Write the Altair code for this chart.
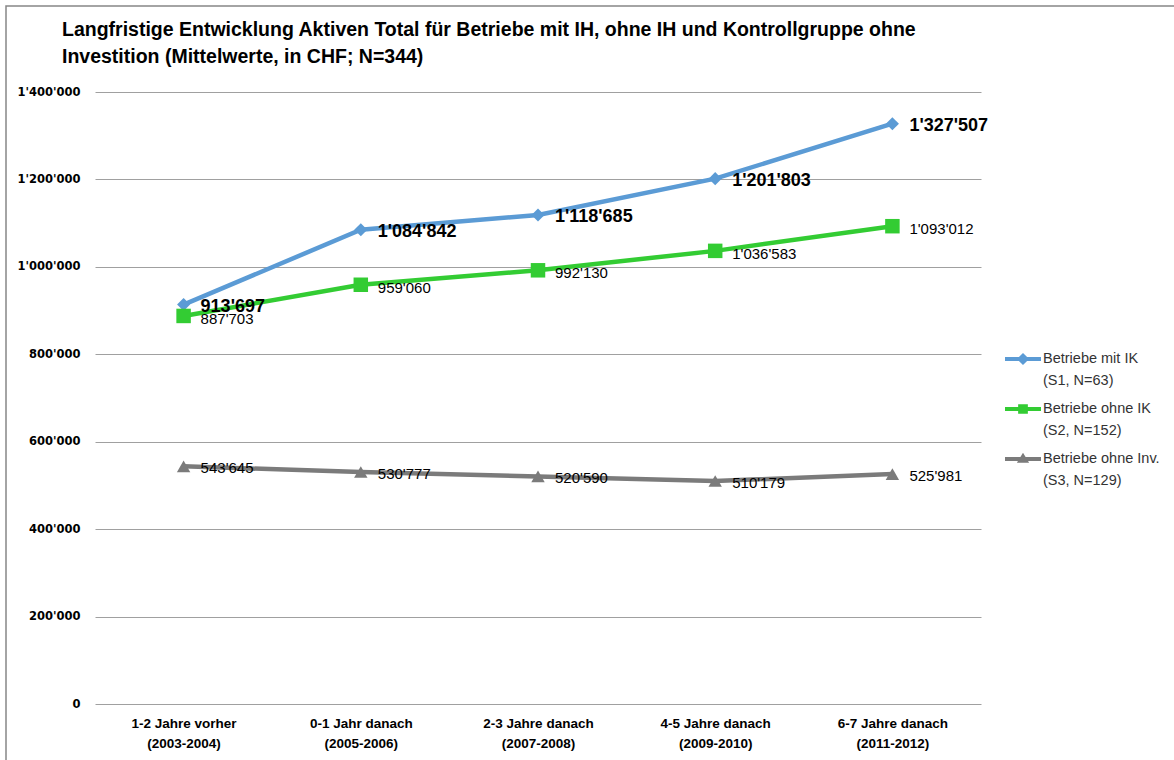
import altair as alt
import pandas as pd

# Categories (x axis): period and year range, shown on two lines
periods = ["1-2 Jahre vorher", "0-1 Jahr danach", "2-3 Jahre danach", "4-5 Jahre danach", "6-7 Jahre danach"]
years = ["(2003-2004)", "(2005-2006)", "(2007-2008)", "(2009-2010)", "(2011-2012)"]

# Series names (legend, two lines each)
series_names = [
    "Betriebe mit IK|(S1, N=63)",
    "Betriebe ohne IK|(S2, N=152)",
    "Betriebe ohne Inv.|(S3, N=129)",
]

# Mean total assets in CHF
mit_ik = [913697, 1084842, 1118685, 1201803, 1327507]
ohne_ik = [887703, 959060, 992130, 1036583, 1093012]
ohne_inv = [543645, 530777, 520590, 510179, 525981]

y_ticks = [0, 200000, 400000, 600000, 800000, 1000000, 1200000, 1400000]
colors = ["#5B9BD5", "#33CC33", "#7B7B7B"]

title_lines = [
    "Langfristige Entwicklung Aktiven Total für Betriebe mit IH, ohne IH und Kontrollgruppe ohne",
    "Investition (Mittelwerte, in CHF; N=344)",
]

categories = [p + "|" + y for p, y in zip(periods, years)]
rows = []
for name, vals in zip(series_names, [mit_ik, ohne_ik, ohne_inv]):
    for cat, v in zip(categories, vals):
        rows.append({"category": cat, "series": name, "value": v})
df = pd.DataFrame(rows)

FONT = "Liberation Sans"

x_enc = alt.X(
    "category:N",
    sort=categories,
    scale=alt.Scale(domain=categories),
    axis=alt.Axis(
        title=None,
        labelExpr="split(datum.label, '|')",
        labelAngle=0,
        domain=False,
        ticks=False,
        labelFont=FONT,
        labelFontWeight="bold",
        labelFontSize=13.5,
        labelLineHeight=20,
        labelPadding=12,
        labelColor="#000000",
        grid=False,
    ),
)
y_enc = alt.Y(
    "value:Q",
    scale=alt.Scale(domain=[0, 1400000], nice=False),
    axis=alt.Axis(
        title=None,
        values=y_ticks,
        format=",d",
        domain=False,
        ticks=False,
        labelFont="DejaVu Sans",
        labelFontWeight="bold",
        labelFontSize=11.5,
        labelPadding=15,
        labelColor="#000000",
        gridColor="#A0A0A0",
        gridWidth=1,
    ),
)

base = alt.Chart(df)

# outer frame of the chart
frame = alt.Chart(alt.InlineData(values=[{}])).mark_rect(
    fillOpacity=0, stroke="#868686", strokeWidth=1.5
).encode(
    x=alt.value(-89), x2=alt.value(1090), y=alt.value(-86), y2=alt.value(700)
)

shapes = ["diamond", "square", "triangle-up"]
sizes = [170, 210, 180]
label_styles = [
    dict(fontSize=18, fontWeight="bold", dx=17, dy=2),
    dict(fontSize=15, fontWeight="normal", dx=17, dy=3),
    dict(fontSize=15, fontWeight="normal", dx=17, dy=2),
]

line_layers, point_layers, label_layers = [], [], []
for name, col, shp, sz, st in zip(series_names, colors, shapes, sizes, label_styles):
    s = base.transform_filter(alt.datum.series == name)
    line_layers.append(
        s.mark_line(strokeWidth=4.5, color=col).encode(x=x_enc, y=y_enc)
    )
    point_layers.append(
        s.mark_point(shape=shp, filled=True, size=sz, opacity=1, color=col).encode(x=x_enc, y=y_enc)
    )
    label_layers.append(
        s.mark_text(align="left", baseline="middle", font=FONT, color="#000000", **st)
        .encode(x=x_enc, y=y_enc, text=alt.Text("value:Q", format=",d"))
    )

# legend symbols: a thick line with the series marker in its middle
legend_paths = [
    "M-1,-0.11H1V0.11H-1Z M0,-0.34L0.34,0L0,0.34L-0.34,0Z",
    "M-1,-0.11H1V0.11H-1Z M-0.27,-0.27H0.27V0.27H-0.27Z",
    "M-1,-0.11H1V0.11H-1Z M0,-0.35L0.34,0.21L-0.34,0.21Z",
]
legend_cfg = dict(
    title=None,
    orient="none",
    legendX=910,
    legendY=249,
    labelExpr="split(datum.label, '|')",
    symbolSize=1296,
    symbolStrokeWidth=0,
    labelFont=FONT,
    labelFontSize=14.5,
    labelColor="#333333",
    labelOffset=2,
    rowPadding=3,
    padding=0,
)
legend_layer = (
    base.transform_filter(alt.datum.value < 0)
    .mark_point(filled=True, opacity=1)
    .encode(
        x=x_enc,
        y=y_enc,
        color=alt.Color(
            "series:N",
            scale=alt.Scale(domain=series_names, range=colors),
            legend=alt.Legend(**legend_cfg),
        ),
        shape=alt.Shape(
            "series:N",
            scale=alt.Scale(domain=series_names, range=legend_paths),
            legend=alt.Legend(**legend_cfg),
        ),
    )
)

chart = (
    alt.layer(frame, *line_layers, *point_layers, *label_layers, legend_layer)
    .properties(
        width=886,
        height=612,
        autosize=alt.AutoSizeParams(type="none"),
        padding={"left": 95, "top": 92, "right": 193, "bottom": 56},
        title=alt.TitleParams(
            text=title_lines,
            anchor="start",
            frame="group",
            baseline="bottom",
            dx=-33,
            dy=81,
            offset=0,
            font=FONT,
            fontSize=19.5,
            fontWeight="bold",
            color="#000000",
            lineHeight=27,
        ),
    )
    .configure(
        locale={
            "number": {
                "decimal": ".",
                "thousands": "'",
                "grouping": [3],
                "currency": ["", ""],
            }
        },
        style={"guide-label": {"lineHeight": 22}},
    )
    .configure_view(stroke=None)
)

chart.save("out.html", embed_options={"renderer": "svg", "actions": False})
